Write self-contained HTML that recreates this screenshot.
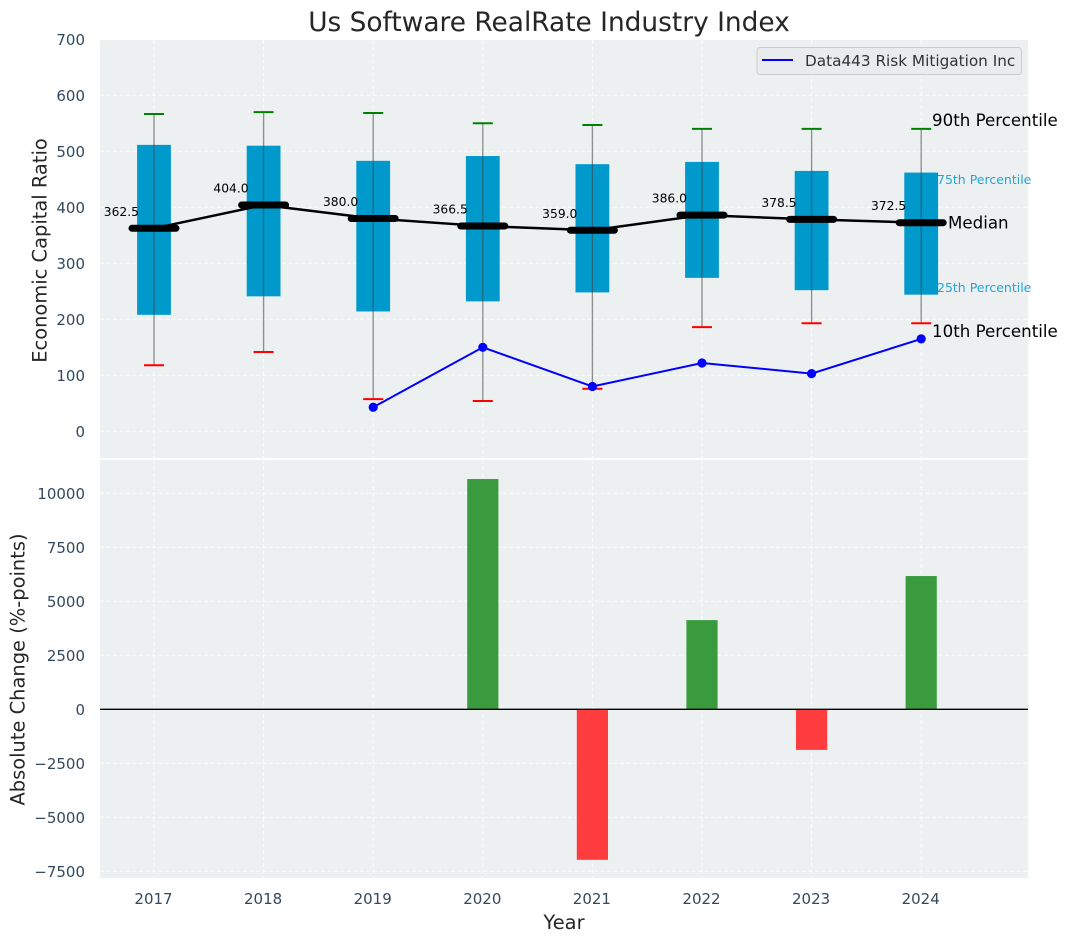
<!DOCTYPE html>
<html>
<head>
<meta charset="utf-8">
<title>Us Software RealRate Industry Index</title>
<style>
html,body{margin:0;padding:0;background:#fff;}
svg{display:block;font-family:"DejaVu Sans","Liberation Sans",sans-serif;}
</style>
</head>
<body>
<svg id="chart" xmlns="http://www.w3.org/2000/svg" width="1067" height="942" viewBox="0 0 1067 942">
  <text x="549" y="31" text-anchor="middle" font-size="26.4" fill="#262626">Us Software RealRate Industry Index</text>
  <rect x="100" y="40" width="928" height="418" fill="#ecf0f1"/>
  <rect x="100" y="460" width="928" height="418" fill="#ecf0f1"/>
  <g id="grid"></g>
  <g id="bars"></g>
  <g id="boxes"></g>
  <g id="lines"></g>
  <g id="ticks"></g>
  <text transform="translate(46.5,250.5) rotate(-90)" text-anchor="middle" font-size="19.44" fill="#262626">Economic Capital Ratio</text>
  <text transform="translate(24.5,669.5) rotate(-90)" text-anchor="middle" font-size="19.44" fill="#262626">Absolute Change (%-points)</text>
  <text x="564" y="929" text-anchor="middle" font-size="19.44" fill="#262626">Year</text>
  <text x="932" y="126" font-size="16.67" fill="#000">90th Percentile</text>
  <text x="937" y="184" font-size="12.5" fill="#0099cc" fill-opacity="0.85">75th Percentile</text>
  <text x="948" y="228.5" font-size="16.67" fill="#000">Median</text>
  <text x="937" y="292" font-size="12.5" fill="#0099cc" fill-opacity="0.85">25th Percentile</text>
  <text x="932" y="337" font-size="16.67" fill="#000">10th Percentile</text>
  <g>
    <rect x="757" y="47.5" width="264.5" height="27" rx="3" fill="#e9ebef" stroke="#cccccc" stroke-width="1"/>
    <line x1="762" y1="60" x2="793" y2="60" stroke="#0000ff" stroke-width="2"/>
    <text x="805" y="66" font-size="15.28" fill="#333333">Data443 Risk Mitigation Inc</text>
  </g>
</svg>
<script>
const years = [2017, 2018, 2019, 2020, 2021, 2022, 2023, 2024];
const p90 = [566.5, 570, 568.5, 550, 547, 540, 540, 540];
const p75 = [511.5, 510, 483, 491.5, 477, 481, 465, 462];
const medians = [362.5, 404.0, 380.0, 366.5, 359.0, 386.0, 378.5, 372.5];
const p25 = [208, 241, 214, 232, 248, 274, 252, 244];
const p10 = [118, 141.5, 57.5, 54, 76, 186, 193, 193];
const companyValues = [null, null, 43, 150, 80, 122, 103, 165];
const changes = [null, null, null, 10660, -6970, 4130, -1880, 6170];
const upperTicks = [0, 100, 200, 300, 400, 500, 600, 700];
const lowerTicks = [-7500, -5000, -2500, 0, 2500, 5000, 7500, 10000];

const NS = 'http://www.w3.org/2000/svg';
const xScale = v => 154.0 + (v - 2017) * 109.6;
const yUpper = v => 431.3 - v * 0.56;
const yLower = v => 709.3 - v * 0.0216;
const gGrid = document.getElementById('grid');
const gBars = document.getElementById('bars');
const gBoxes = document.getElementById('boxes');
const gLines = document.getElementById('lines');
const gTicks = document.getElementById('ticks');

function mk(tag, parent, attrs) {
  const el = document.createElementNS(NS, tag);
  for (const k in attrs) el.setAttribute(k, attrs[k]);
  parent.appendChild(el);
  return el;
}
const gridStyle = {stroke: '#ffffff', 'stroke-width': 1, 'stroke-dasharray': '4 2.5', 'stroke-opacity': 0.85};

upperTicks.forEach(t => {
  const y = yUpper(t);
  const line = mk('line', gGrid, Object.assign({x1: 100, x2: 1028, y1: y, y2: y}, gridStyle));
  
  
  const label = mk('text', gTicks, {x: 85, y: y + 5.8, 'text-anchor': 'end', 'font-size': 15, fill: '#34495e'});
  
  
  label.textContent = String(t);
});

lowerTicks.forEach(t => {
  const y = yLower(t);
  const line = mk('line', gGrid, Object.assign({x1: 100, x2: 1028, y1: y, y2: y}, gridStyle));
  
  
  const label = mk('text', gTicks, {x: 85, y: y + 5.8, 'text-anchor': 'end', 'font-size': 15, fill: '#34495e'});
  
  
  label.textContent = String(t).replace('-', '\u2212');
});

years.forEach(yr => {
  const x = xScale(yr);
  const upper = mk('line', gGrid, Object.assign({x1: x, x2: x, y1: 40, y2: 458}, gridStyle));
  
  
  const lower = mk('line', gGrid, Object.assign({x1: x, x2: x, y1: 460, y2: 878}, gridStyle));
  
  
  const label = mk('text', gTicks, {x: x - 0.5, y: 904, 'text-anchor': 'middle', 'font-size': 15, fill: '#34495e'});
  
  
  label.textContent = String(yr);
});

changes.forEach((v, i) => {
  if (v === null) return;
  const x = xScale(years[i]);
  const y0 = yLower(0);
  const y1 = yLower(v);
  const bar = mk('rect', gBars, {x: x - 15.6, width: 31.2, y: Math.min(y0, y1), height: Math.abs(y1 - y0), fill: v >= 0 ? '#3a9b3e' : '#ff3d3f'});
  
  
});
const zero = mk('line', gBars, {x1: 100, x2: 1028, y1: yLower(0), y2: yLower(0), stroke: '#000', 'stroke-width': 1.3});



years.forEach((yr, i) => {
  const x = xScale(yr);
  const box = mk('rect', gBoxes, {x: x - 16.9, width: 33.8, y: yUpper(p75[i]), height: yUpper(p25[i]) - yUpper(p75[i]), fill: '#0099cc'});
  
  
  const whisker = mk('line', gBoxes, {x1: x, x2: x, y1: yUpper(p90[i]), y2: yUpper(p10[i]), stroke: '#444444', 'stroke-width': 1.3, 'stroke-opacity': 0.6});
  
  
  const capHigh = mk('line', gBoxes, {x1: x - 10, x2: x + 10, y1: yUpper(p90[i]), y2: yUpper(p90[i]), stroke: '#008000', 'stroke-width': 2});
  
  
  const capLow = mk('line', gBoxes, {x1: x - 10, x2: x + 10, y1: yUpper(p10[i]), y2: yUpper(p10[i]), stroke: '#ff0000', 'stroke-width': 2});
  
  
});

const medianPath = mk('polyline', gLines, {points: years.map((yr, i) => xScale(yr) + ',' + yUpper(medians[i])).join(' '), fill: 'none', stroke: '#000', 'stroke-width': 2.5});



years.forEach((yr, i) => {
  const x = xScale(yr);
  const y = yUpper(medians[i]);
  const bar = mk('line', gLines, {x1: x - 22, x2: x + 22, y1: y, y2: y, stroke: '#000', 'stroke-width': 7, 'stroke-linecap': 'round'});
  
  
  const label = mk('text', gLines, {x: x - 15, y: y - 12.5, 'text-anchor': 'end', 'font-size': 12.3, fill: '#000'});
  
  
  label.textContent = medians[i].toFixed(1);
});

const present = years.map((yr, i) => i).filter(i => companyValues[i] !== null);
const companyPath = mk('polyline', gLines, {points: present.map(i => xScale(years[i]) + ',' + yUpper(companyValues[i])).join(' '), fill: 'none', stroke: '#0000ff', 'stroke-width': 2});


present.forEach(i => {
  const dot = mk('circle', gLines, {cx: xScale(years[i]), cy: yUpper(companyValues[i]), r: 4.6, fill: '#0000ff'});
  
  
});
</script>
</body>
</html>
